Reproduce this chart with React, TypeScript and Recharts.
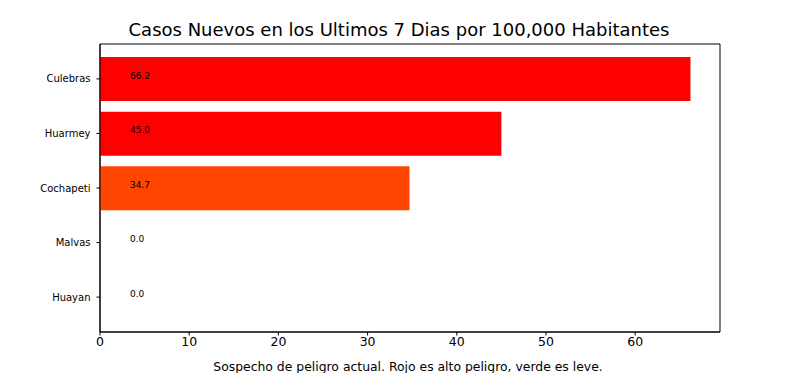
import React from "react";
import { BarChart, Bar, XAxis, YAxis, Cell, LabelList, ReferenceArea } from "recharts";

const categories = ["Culebras", "Huarmey", "Cochapeti", "Malvas", "Huayan"];
const values = [66.2, 45.0, 34.7, 0.0, 0.0];
const colors = ["#ff0000", "#ff0000", "#ff4500", "#008000", "#008000"];
const xTicks = [0, 10, 20, 30, 40, 50, 60];
const yTicks = [0, 1, 2, 3, 4];
const xMax = 69.51;
const yDomain = [-0.64, 4.64];

const data = categories.map((name, i) => ({ name, idx: i, value: values[i] }));
const FONT = "DejaVu Sans, sans-serif";

const ValueLabel = (props: any) => {
  const { x, y, height, value } = props;
  return (
    <text
      x={Number(x) + 30}
      y={Number(y) + Number(height) / 2 - 3}
      fontSize={9}
      fontFamily={FONT}
      fill="#000"
      dominantBaseline="middle"
    >
      {Number(value).toFixed(1)}
    </text>
  );
};

const XLabel = (props: any) => {
  const { viewBox } = props;
  return (
    <text
      x={viewBox.x + viewBox.width / 2 - 2}
      y={viewBox.y + 39}
      textAnchor="middle"
      fontSize={12.4}
      fontFamily={FONT}
      fill="#000"
    >
      Sospecho de peligro actual. Rojo es alto peligro, verde es leve.
    </text>
  );
};

export default function App() {
  return (
    <div style={{ position: "absolute", left: 0, top: 0, width: 800, height: 373, background: "#fff", overflow: "hidden" }}>
      <svg style={{ position: "absolute", left: 0, top: 0 }} width={800} height={44}>
        <text x={399} y={36} textAnchor="middle" fontSize={18} fontFamily={FONT} fill="#000">
          Casos Nuevos en los Ultimos 7 Dias por 100,000 Habitantes
        </text>
      </svg>
      <BarChart
        width={800}
        height={373}
        data={data}
        layout="vertical"
        margin={{ top: 44, right: 80, bottom: 0, left: 0 }}
        barCategoryGap="10%"
      >
        <XAxis
          type="number"
          domain={[0, xMax]}
          ticks={xTicks}
          allowDataOverflow
          height={41}
          axisLine={{ stroke: "#000" }}
          tickLine={{ stroke: "#000" }}
          tickSize={3.5}
          tick={{ fontSize: 12.5, fontFamily: FONT, fill: "#000" }}
          tickMargin={2}
          label={<XLabel />}
        />
        <YAxis
          type="number"
          dataKey="idx"
          domain={yDomain}
          allowDataOverflow
          ticks={yTicks}
          interval={0}
          tickFormatter={(v: number) => categories[v] ?? ""}
          width={100}
          axisLine={{ stroke: "#000" }}
          tickLine={{ stroke: "#000" }}
          tickSize={3.5}
          tickMargin={6}
          tick={{ fontSize: 10, fontFamily: FONT, fill: "#000" }}
        />
        <Bar dataKey="value" isAnimationActive={false} minPointSize={0.01}>
          {data.map((d, i) => (
            <Cell key={d.name} fill={colors[i]} />
          ))}
          <LabelList dataKey="value" content={<ValueLabel />} />
        </Bar>
        <ReferenceArea
          x1={0}
          x2={xMax}
          y1={yDomain[0]}
          y2={yDomain[1]}
          fill="none"
          fillOpacity={0}
          stroke="#000"
          strokeWidth={1}
          ifOverflow="visible"
        />
      </BarChart>
    </div>
  );
}
